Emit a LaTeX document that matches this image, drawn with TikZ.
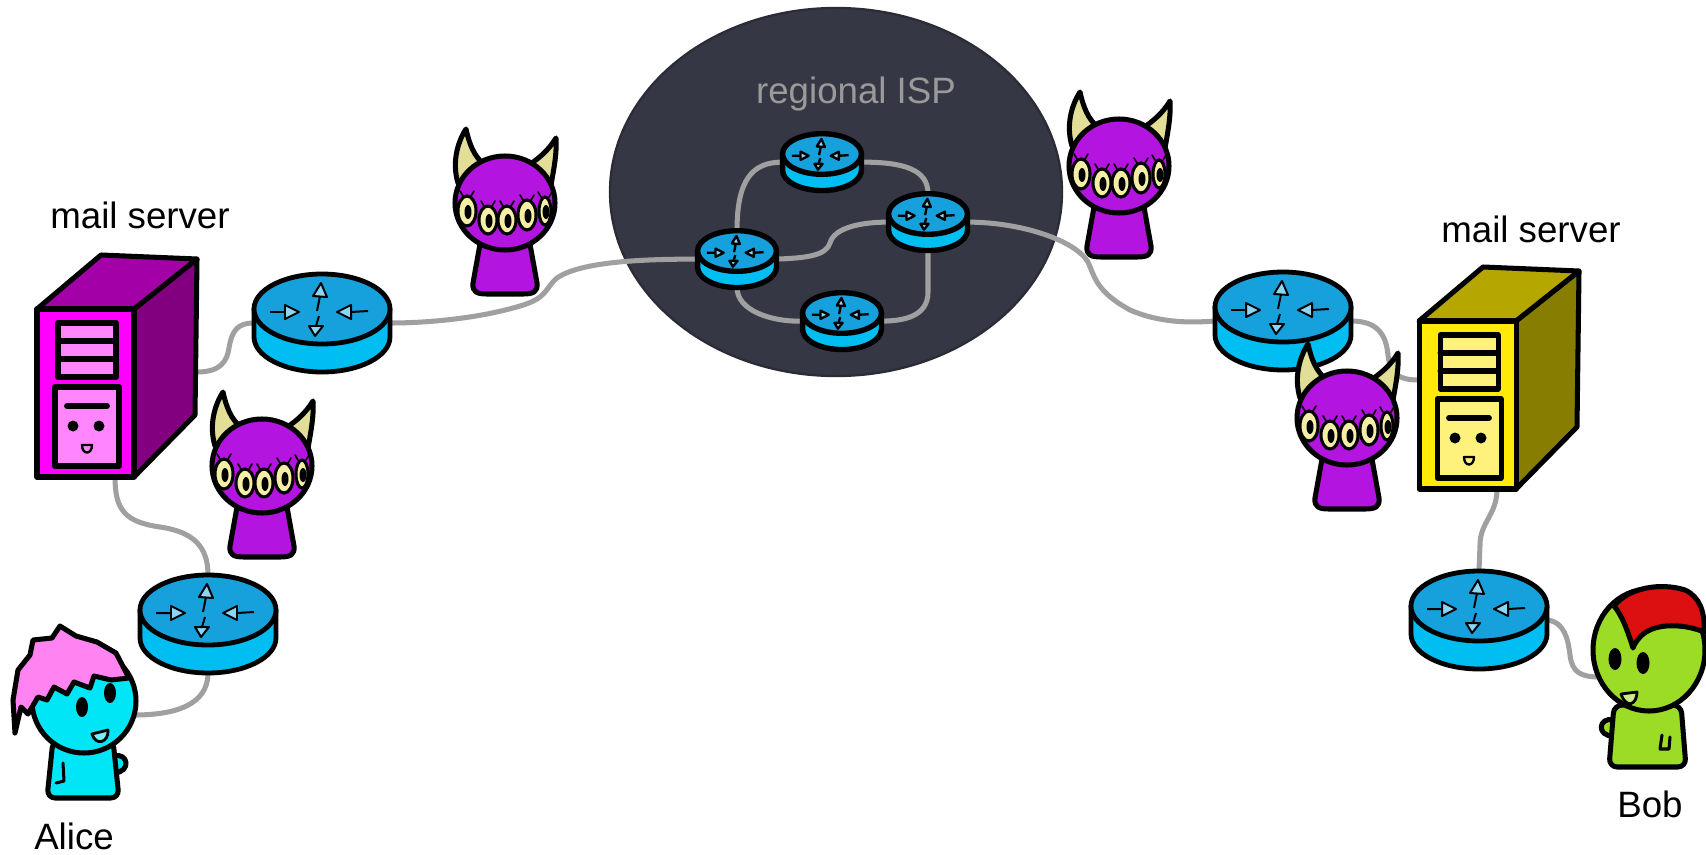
\documentclass[tikz,border=0pt]{standalone}
\usepackage{fontspec}
\setmainfont{Liberation Sans}
\usetikzlibrary{calc,shapes.geometric}
\pgfdeclarelayer{bg}
\pgfsetlayers{bg,main}

\definecolor{ispfill}{HTML}{363744}
\definecolor{ispedge}{HTML}{2B2C36}
\definecolor{isptext}{HTML}{9A9A9A}
\definecolor{cable}{HTML}{A0A0A0}
\definecolor{rtop}{HTML}{16A1DD}
\definecolor{rband}{HTML}{00BDF2}
\definecolor{rarrow}{HTML}{8AD6F4}
\definecolor{devil}{HTML}{B414E0}
\definecolor{horn}{HTML}{E2DE98}
\definecolor{deye}{HTML}{F4EFA4}
\definecolor{magfront}{HTML}{FF00FF}
\definecolor{magpanel}{HTML}{FF86FF}
\definecolor{magtop}{HTML}{A300A8}
\definecolor{magside}{HTML}{82007F}
\definecolor{yelfront}{HTML}{FFEA0A}
\definecolor{yelpanel}{HTML}{FFF27C}
\definecolor{yeltop}{HTML}{B5A700}
\definecolor{yelside}{HTML}{877D00}
\definecolor{aliceskin}{HTML}{00E6F6}
\definecolor{alicehair}{HTML}{FF84F2}
\definecolor{bobskin}{HTML}{9CDC26}
\definecolor{bobhair}{HTML}{DC1010}

\tikzset{
  ink/.style={draw=black, line width=4.3pt, line join=round, line cap=round},
  routerink/.style={draw=black, line width=4.1pt, line join=round},
  arrowink/.style={draw=black, line width=1.7pt, line join=round},
  eyeink/.style={draw=black, line width=2.6pt},
  lashink/.style={draw=black, line width=1.4pt, line cap=round},
  cablepath/.style={draw=cable, line width=4.3pt, line cap=round},
  lbl/.style={font=\fontsize{31.3}{36}\selectfont, anchor=base, inner sep=0pt},
  % router: cylinder seen from above, origin at the centre of the lid
  pics/router/.style={code={
    \path[routerink, fill=rband] (-68,0) -- (-68,28)
      .. controls (-68,47.3) and (-37.5,63) .. (0,63)
      .. controls (37.5,63) and (68,47.3) .. (68,28) -- (68,0) -- cycle;
    \path[routerink, fill=rtop] (0,0) ellipse[x radius=68, y radius=35];
    \path[arrowink] (-52,3) -- (-37,3) (46,2) -- (29,3) (-5,2) -- (-2,-13) (-3,7) -- (-6,17);
    \path[arrowink, fill=rarrow] (-37,-4) -- (-23,3) -- (-37,10) -- cycle;
    \path[arrowink, fill=rarrow] (29,-4) -- (15,3) -- (29,10) -- cycle;
    \path[arrowink, fill=rarrow] (-9,-13) -- (-1,-26) -- (5,-12) -- cycle;
    \path[arrowink, fill=rarrow] (-13,17) -- (1,17) -- (-7,27) -- cycle;
    \coordinate (-w) at (-68,14);
    \coordinate (-e) at (68,14);
    \coordinate (-n) at (0,-35);
    \coordinate (-s) at (0,63);
  }},
  % tower server, origin at the top left corner of the front face
  pics/server/.style n args={4}{code={
    \path[ink, fill=#4] (97,0) -- (160,-50) -- (158,106) -- (97,168) -- cycle;
    \path[ink, fill=#3] (0,0) -- (64,-54) -- (160,-50) -- (97,0) -- cycle;
    \path[ink, fill=#1] (0,0) rectangle (97,168);
    \path[ink, fill=#2] (21,14) rectangle (79,68);
    \draw[ink] (21,32) -- (79,32) (21,50) -- (79,50);
    \path[ink, fill=#2] (18,78) rectangle (82,157);
    \draw[ink, line width=5pt] (30,97) -- (70,97);
    \fill (36,117) circle[radius=5.5] (62,117) circle[radius=5.5];
    \path[ink, line width=2pt, fill=#2] (45,136) -- (55,136) .. controls (55,146) and (45,146) .. (45,136) -- cycle;
    \coordinate (-e) at (160,63);
    \coordinate (-w) at (0,59);
    \coordinate (-s) at (78,168);
  }},
  % horned eavesdropper, origin at the centre of the head
  pics/devil/.style={code={
    \path[ink, fill=devil] (-23,30) -- (-32,80) .. controls (-33,89) and (-28,91) .. (-18,91)
      -- (18,91) .. controls (28,91) and (33,89) .. (32,80) -- (23,30) -- cycle;
    \path[ink, fill=horn] (-47,-20) .. controls (-53,-40) and (-48,-60) .. (-39,-74)
      .. controls (-36,-60) and (-31,-46) .. (-20,-38) -- cycle;
    \path[ink, fill=horn] (46,-18) .. controls (49,-35) and (52,-50) .. (51,-65)
      .. controls (43,-52) and (34,-45) .. (24,-38) -- cycle;
    \path[ink, fill=devil] (0,0) ellipse[x radius=50, y radius=47];
    \foreach \ex/\ey/\erx/\ery in {-38/8/9/15, -17/17/9/14, 2/17/9/14, 22/12/9/15, 40/8/6/14}{
      \path[eyeink, fill=deye] (\ex,\ey) ellipse[x radius=\erx, y radius=\ery];
      \fill ({\ex+1},{\ey+1}) ellipse[x radius=3.5, y radius=7];
      \path[lashink] ({\ex-4},{\ey-\ery}) -- ({\ex-7},{\ey-\ery-5})
                     ({\ex+4},{\ey-\ery}) -- ({\ex+7},{\ey-\ery-5});
    }
    \coordinate (-c) at (0,0);
  }},
}

\begin{document}
\begin{tikzpicture}[x=0.3mm, y=-0.3mm]
\begin{pgfonlayer}{bg}
  \fill[white] (0,0) rectangle (1706,855);
\end{pgfonlayer}
\useasboundingbox (0,0) rectangle (1706,855);

% ---------- servers ----------
\pic (srvL) at (37,309) {server={magfront}{magpanel}{magtop}{magside}};
\pic (srvR) at (1419,321) {server={yelfront}{yelpanel}{yeltop}{yelside}};

% ---------- access routers ----------
\pic (r1) at (322,309) {router};
\pic (ra) at (208,610) {router};
\pic (rr) at (1283,307) {router};
\pic (rb) at (1479,606) {router};

% ---------- routers of the regional ISP ----------
\begin{scope}[routerink/.append style={line width=4.6pt}, arrowink/.append style={line width=2pt}]
  \begin{scope}[shift={(822,154)}, scale=0.58, transform shape] \pic (it) {router}; \end{scope}
  \begin{scope}[shift={(928,214)}, scale=0.58, transform shape] \pic (irt) {router}; \end{scope}
  \begin{scope}[shift={(737,251)}, scale=0.58, transform shape] \pic (il) {router}; \end{scope}
  \begin{scope}[shift={(842,313)}, scale=0.58, transform shape] \pic (ib) {router}; \end{scope}
\end{scope}

\node[lbl, text=isptext] (lblISP) at (856,103) {regional ISP};

% ---------- Alice ----------
\path[ink, fill=aliceskin] (114,756) .. controls (128,752) and (132,772) .. (114,773) -- cycle;
\path[ink, fill=aliceskin, rounded corners=7pt] (53,740) -- (47,798) -- (119,798) -- (113,740) -- cycle;
\draw[ink, line width=2.6pt] (63,763) -- (64,781) -- (56,783);
\path[ink, fill=aliceskin] (84,701) circle[radius=52];
\path[ink, fill=alicehair] (15,733) -- (13,700) -- (18,670) -- (30,655) -- (33,640) -- (52,638)
  -- (60,626) -- (76,636) -- (97,642) -- (116,653) -- (129,678) -- (111,680) -- (94,676)
  -- (90,688) -- (74,682) -- (67,694) -- (54,687) -- (47,700) -- (38,697) -- (28,714)
  -- (21,707) -- cycle;
\fill (82,707) ellipse[x radius=6, y radius=10] (110,693) ellipse[x radius=6, y radius=10];
\path[ink, line width=2.4pt, fill=white!45!aliceskin] (92,734) -- (108,730)
  .. controls (109,742) and (96,747) .. (92,734) -- cycle;
\coordinate (alice-e) at (134,715);
\node[lbl] (lblAlice) at (74,849) {Alice};

% ---------- Bob ----------
\path[ink, fill=bobskin] (1614,720) .. controls (1598,716) and (1596,737) .. (1614,736) -- cycle;
\path[ink, fill=bobskin, rounded corners=7pt] (1614,705) -- (1609,767) -- (1686,767) -- (1681,705) -- cycle;
\draw[ink, line width=2.6pt] (1662,735) -- (1660,749) -- (1669,749) -- (1670,737);
\path[ink, fill=bobskin] (1649,650) ellipse[x radius=56, y radius=61];
\path[ink, fill=bobhair] (1614,606) .. controls (1628,588) and (1660,582) .. (1685,590)
  .. controls (1700,597) and (1705,612) .. (1704,632)
  .. controls (1685,624) and (1655,622) .. (1641,636)
  .. controls (1636,641) and (1634,645) .. (1633,648)
  .. controls (1628,632) and (1622,615) .. (1614,606) -- cycle;
\fill (1615,659) ellipse[x radius=6.5, y radius=11] (1643,663) ellipse[x radius=6.5, y radius=11];
\path[ink, line width=2.4pt, fill=white!45!bobskin] (1621,694) -- (1637,692)
  .. controls (1637,705) and (1626,709) .. (1621,694) -- cycle;
\coordinate (bob-w) at (1600,677);
\node[lbl] (lblBob) at (1650,817) {Bob};

% ---------- labels ----------
\node[lbl] (lblSrvL) at (140,228) {mail server};
\node[lbl] (lblSrvR) at (1531,242) {mail server};

% ---------- eavesdroppers ----------
\pic (d1) at (505,203) {devil};
\pic (d2) at (262,466) {devil};
\pic (d3) at (1119,166) {devil};
\pic (d4) at (1347,418) {devil};

% ---------- ISP cloud and cables ----------
\begin{pgfonlayer}{bg}
\node[ellipse, fill=ispfill, draw=ispedge, line width=2pt, inner sep=0pt,
      minimum width=135.6mm, minimum height=110.4mm] (isp) at (836,192) {};
% links inside the ISP
\path[cablepath] (it-w) .. controls (752,162) and (737,180) .. (il-n);
\path[cablepath] (it-e) .. controls (905,162) and (928,170) .. (irt-n);
\path[cablepath] (il-e) .. controls (805,258) and (826,256) .. (830,243)
  .. controls (834,228) and (860,222) .. (irt-w);
\path[cablepath] (il-s) .. controls (737,310) and (770,322) .. (ib-w);
\path[cablepath] (irt-s) -- (928,292) .. controls (928,316) and (905,321) .. (ib-e);
% uplinks
\path[cablepath] (il-w) .. controls (640,259) and (580,262) .. (557,278)
  .. controls (545,288) and (548,298) .. (520,306)
  .. controls (480,318) and (430,323) .. (r1-e);
\path[cablepath] (irt-e) .. controls (1020,222) and (1075,240) .. (1088,262)
  .. controls (1095,278) and (1097,292) .. (1130,310)
  .. controls (1160,323) and (1190,323) .. (rr-w);
% Alice's side
\path[cablepath] (srvL-e) .. controls (222,372) and (227,360) .. (229,348)
  .. controls (232,330) and (238,323) .. (r1-w);
\path[cablepath] (srvL-s) .. controls (115,510) and (125,522) .. (160,527)
  .. controls (195,532) and (208,548) .. (ra-n);
\path[cablepath] (ra-s) .. controls (208,705) and (175,715) .. (alice-e);
% Bob's side
\path[cablepath] (rr-e) .. controls (1378,321) and (1386,335) .. (1388,355)
  .. controls (1390,375) and (1400,380) .. (srvR-w);
\path[cablepath] (srvR-s) .. controls (1497,515) and (1480,522) .. (1480,545) -- (rb-n);
\path[cablepath] (rb-e) .. controls (1565,622) and (1568,640) .. (1570,655)
  .. controls (1572,672) and (1580,677) .. (bob-w);
\end{pgfonlayer}
\end{tikzpicture}
\end{document}
